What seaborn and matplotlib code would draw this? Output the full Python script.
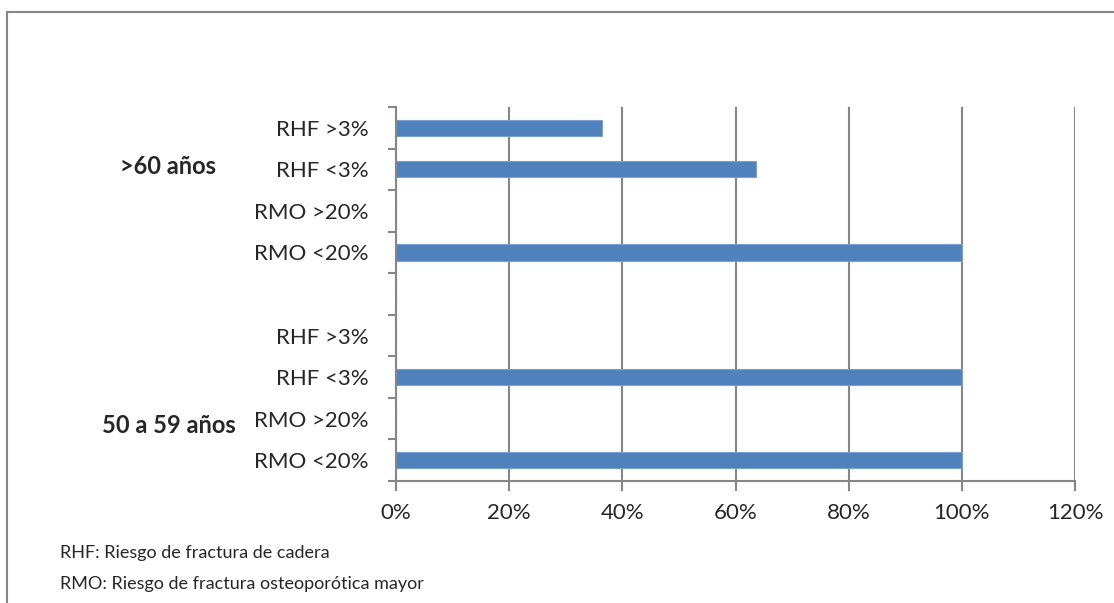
import numpy as np
import pandas as pd
import matplotlib.pyplot as plt
import seaborn as sns
from matplotlib.lines import Line2D
from matplotlib.ticker import FixedLocator

# data
groups = ['>60 años', '>60 años', '>60 años', '>60 años', '',
          '50 a 59 años', '50 a 59 años', '50 a 59 años', '50 a 59 años']
categories = ['RHF >3%', 'RHF <3%', 'RMO >20%', 'RMO <20%', '',
              'RHF >3%', 'RHF <3%', 'RMO >20%', 'RMO <20%']
values = [36.4, 63.6, 0, 100, 0, 0, 100, 0, 100]
xticks = [0, 20, 40, 60, 80, 100, 120]
group_names = ['>60 años', '50 a 59 años']
group_label_y = [0.92, 7.17]
notes = ['RHF: Riesgo de fractura de cadera',
         'RMO: Riesgo de fractura osteoporótica mayor']

df = pd.DataFrame({'group': groups, 'cat': categories, 'pct': values})
df['key'] = [f'{i}_{g}_{c}' for i, (g, c) in enumerate(zip(groups, categories))]

sns.set_style('white')
plt.rcParams['font.family'] = ['Lato', 'DejaVu Sans']

W, H = 1114, 603
fig = plt.figure(figsize=(W / 100, H / 100), dpi=100)
ax = fig.add_axes([396 / W, 1 - 481 / H, (1075 - 396) / W, (481 - 107) / H])

sns.barplot(data=df, x='pct', y='key', order=list(df['key']), orient='h',
            color='#4F81BD', saturation=1, width=0.39,
            edgecolor='#7BA0CD', linewidth=0.8, ax=ax)

grid_c = '#868686'
ax.set_xlim(0, 120)
ax.set_ylim(len(df) - 0.5, -0.5)
ax.set_xticks(xticks)
ax.set_xticklabels([f'{t}%' for t in xticks], fontsize=16)
ax.set_yticks(range(len(df)))
ax.set_yticklabels(df['cat'], fontsize=16)
ax.yaxis.set_minor_locator(FixedLocator(np.arange(-0.5, len(df), 1)))
ax.tick_params(axis='y', which='major', length=0, pad=20)
ax.tick_params(axis='y', which='minor', length=6, width=1.5, color=grid_c, left=True)
ax.tick_params(axis='x', length=7, width=1.5, color=grid_c, pad=9, bottom=True)
ax.set_xlabel('')
ax.set_ylabel('')
ax.xaxis.grid(True, color=grid_c, linewidth=1.5)
ax.yaxis.grid(False)
ax.set_axisbelow(True)
for s in ['top', 'right']:
    ax.spines[s].set_visible(False)
for s in ['left', 'bottom']:
    ax.spines[s].set_color(grid_c)
    ax.spines[s].set_linewidth(1.5)

# group labels
for name, yv in zip(group_names, group_label_y):
    _, ypix = ax.transData.transform((0, yv))
    fig.text(168.5 / W, ypix / H, name, ha='center', va='center',
             fontsize=17, fontweight='bold')

# footnotes
fig.text(60 / W, 1 - 553 / H, notes[0], ha='left', va='center', fontsize=13)
fig.text(60 / W, 1 - 584 / H, notes[1], ha='left', va='center', fontsize=13)

# outer frame (top and left edges only visible)
fig.add_artist(Line2D([7 / W, 7 / W], [0, 1 - 12 / H], transform=fig.transFigure,
                      color=grid_c, linewidth=1.5))
fig.add_artist(Line2D([7 / W, 1], [1 - 12 / H, 1 - 12 / H], transform=fig.transFigure,
                      color=grid_c, linewidth=1.5))

fig.savefig('out.png', dpi=100, facecolor='white')
